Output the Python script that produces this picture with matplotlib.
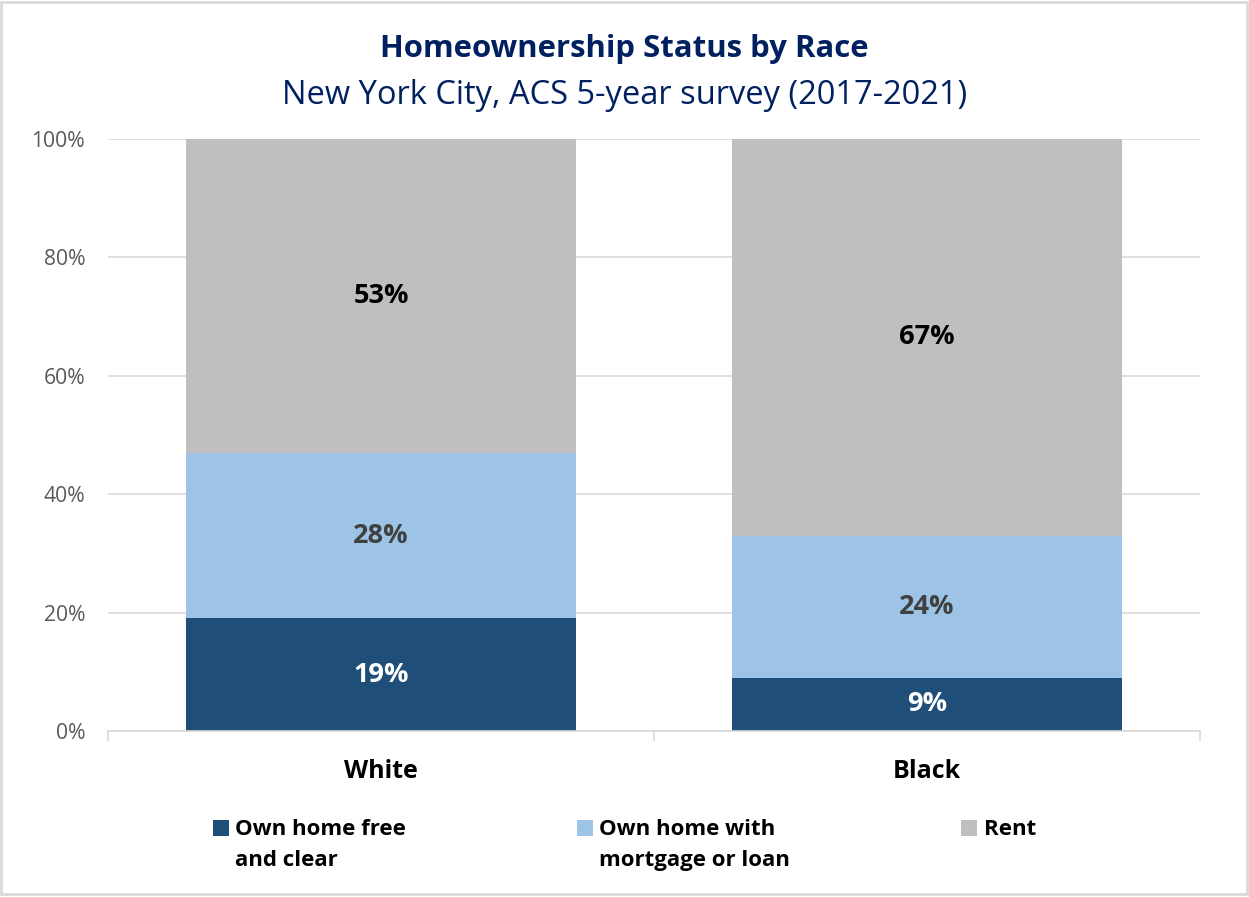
import matplotlib.pyplot as plt
from matplotlib.patches import Patch, Rectangle
from matplotlib.legend_handler import HandlerPatch
from matplotlib.ticker import PercentFormatter
import numpy as np

# Homeownership shares (%) by race, NYC ACS 5-year 2017-2021
races = ["White", "Black"]
own_free = [19, 9]
own_mortgage = [28, 24]
rent = [53, 67]

# every label gets two lines so the squares line up with the first one
series_names = ["Own home free\nand clear", "Own home with\nmortgage or loan", "Rent\n"]
series_colors = ["#1f4e79", "#9dc3e6", "#bfbfbf"]
label_colors = ["white", "#404040", "black"]

plt.rcParams["font.family"] = ["Open Sans", "DejaVu Sans"]

fig = plt.figure(figsize=(12.49, 8.97), dpi=100)
ax = fig.add_axes([0.0865, 0.1851, 0.8743, 0.6600])

x = np.arange(len(races))
bottom = np.zeros(len(races))
for vals, color, txt_color in zip([own_free, own_mortgage, rent], series_colors, label_colors):
    vals = np.array(vals, dtype=float)
    bars = ax.bar(x, vals, width=0.714, bottom=bottom, color=color, zorder=2)
    ax.bar_label(bars, labels=[f"{v:.0f}%" for v in vals], label_type="center",
                 color=txt_color, fontsize=19.5, fontweight="bold")
    bottom += vals

ax.set_xlim(-0.5, len(races) - 0.5)
ax.set_ylim(0, 100)
ax.set_yticks(range(0, 101, 20))
ax.yaxis.set_major_formatter(PercentFormatter(decimals=0))
ax.grid(axis="y", color="#d9d9d9", linewidth=1.2, zorder=0)

for side in ["top", "right", "left"]:
    ax.spines[side].set_visible(False)
ax.spines["bottom"].set_color("#d9d9d9")
ax.spines["bottom"].set_linewidth(1.2)

ax.tick_params(axis="y", length=0, pad=16.5, labelsize=15.2, labelcolor="#595959")
ax.set_xticks(x)
ax.set_xticklabels(races, fontsize=18, fontweight="bold")
ax.tick_params(axis="x", length=0, pad=20)
# category separators below the axis line
ax.set_xticks(np.arange(-0.5, len(races)), minor=True)
ax.tick_params(axis="x", which="minor", length=7, width=1.2, color="#d9d9d9")

fig.text(0.5, 0.945, "Homeownership Status by Race", ha="center", va="center",
         fontsize=22.4, fontweight="bold", color="#002060")
fig.text(0.5, 0.893, "New York City, ACS 5-year survey (2017-2021)", ha="center",
         va="center", fontsize=23.5, color="#002060")


def top_square(legend, orig_handle, xdescent, ydescent, width, height, fontsize):
    # square aligned with the first line of a two-line label
    side = width
    lift = 0.36 * fontsize
    return Rectangle((-xdescent, -ydescent + height - side + lift), side, side)


handles = [Patch(facecolor=c, edgecolor="none") for c in series_colors]
leg = fig.legend(handles, series_names, loc="upper left", bbox_to_anchor=(0.1705, 0.087),
                 ncol=3, frameon=False, prop={"weight": "bold", "size": 16},
                 handlelength=0.72, handleheight=2.1, handletextpad=0.28,
                 columnspacing=7.7, borderpad=0, borderaxespad=0,
                 handler_map={Patch: HandlerPatch(patch_func=top_square)})
for t in leg.get_texts():
    t.set_linespacing(1.6)

# light outer frame
fig.patches.append(Rectangle((0.001, 0.003), 0.997, 0.995, transform=fig.transFigure,
                             fill=False, edgecolor="#d9d9d9", linewidth=2))

fig.savefig("out.png", dpi=100)
